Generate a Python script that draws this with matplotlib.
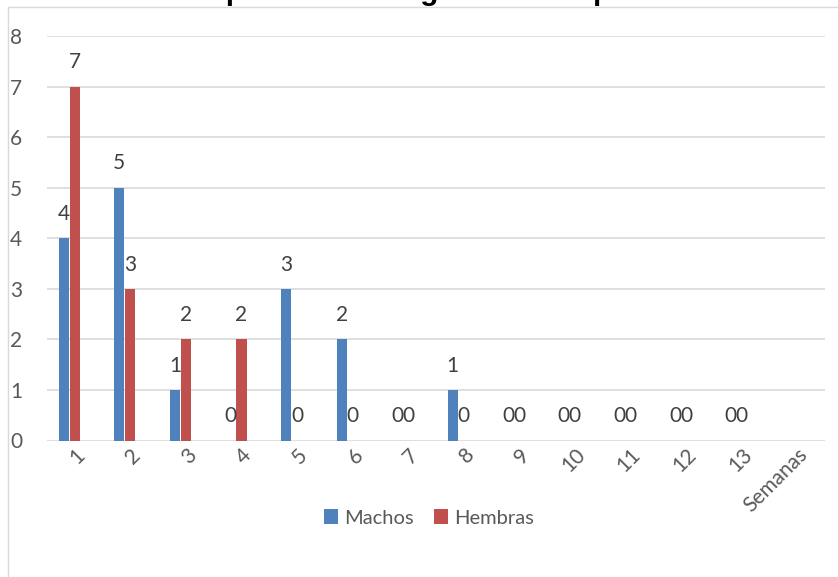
import numpy as np
import matplotlib.pyplot as plt
from matplotlib.patches import Rectangle

# Capturas semanales por sexo
semanas = ['1', '2', '3', '4', '5', '6', '7', '8', '9', '10', '11', '12', '13', 'Semanas']
machos = [4, 5, 1, 0, 3, 2, 0, 1, 0, 0, 0, 0, 0]
hembras = [7, 3, 2, 2, 0, 0, 0, 0, 0, 0, 0, 0, 0]
titulo = 'Gráfica 1. Captura de tortugas adultas por semana'

azul = '#4F81BD'
rojo = '#C0504D'
gris_texto = '#595959'

plt.rcParams['font.family'] = ['Lato', 'DejaVu Sans']

fig = plt.figure(figsize=(8.38, 5.77), dpi=100)
W, H = 838, 577

# marco del gráfico
fig.patches.append(Rectangle((8 / W, -0.1), 1.1, 1.1 - 7.5 / H, transform=fig.transFigure,
                             fill=False, edgecolor='#D9D9D9', linewidth=1.0))

# título (queda recortado por el borde superior)
fig.text(402 / W, 1 - 0.5 / H, titulo, ha='center', va='baseline',
         fontsize=21.5, fontweight='bold', family='Liberation Sans', color='black')

ax = fig.add_axes([47 / W, (H - 440.5) / H, 778 / W, 404.5 / H])

x = np.arange(len(semanas))
n = len(machos)
ancho = 0.198
b1 = ax.bar(x[:n] - ancho, machos, width=ancho * 0.93, color=azul, label='Machos')
b2 = ax.bar(x[:n], hembras, width=ancho * 0.93, color=rojo, label='Hembras')

for barras, valores in ((b1, machos), (b2, hembras)):
    for b, v in zip(barras, valores):
        ax.annotate(str(v), (b.get_x() + b.get_width() / 2, v), xytext=(0, 17.5),
                    textcoords='offset points', ha='center', va='center',
                    fontsize=15, color='#404040')

ax.set_xlim(-0.5, len(semanas) - 0.5)
ax.set_ylim(0, 8)
ax.set_yticks(range(0, 9))
ax.yaxis.grid(True, color='#D9D9D9', linewidth=1.2)
ax.set_axisbelow(True)
for s in ax.spines.values():
    s.set_visible(False)
ax.tick_params(axis='y', length=0, pad=18, labelsize=15, labelcolor=gris_texto)
ax.tick_params(axis='x', length=0, pad=3, labelsize=15, labelcolor=gris_texto)
ax.set_xticks(x)
ax.set_xticklabels(semanas, rotation=45, ha='right', va='top', rotation_mode='anchor')

fig.legend(handles=[b1, b2], loc='center', bbox_to_anchor=(429 / W, 1 - 518 / H), ncol=2,
           frameon=False, fontsize=14.5, handlelength=0.7, handleheight=0.7,
           handletextpad=0.3, columnspacing=1.0, labelcolor=gris_texto)

fig.savefig('out.png', dpi=100)
